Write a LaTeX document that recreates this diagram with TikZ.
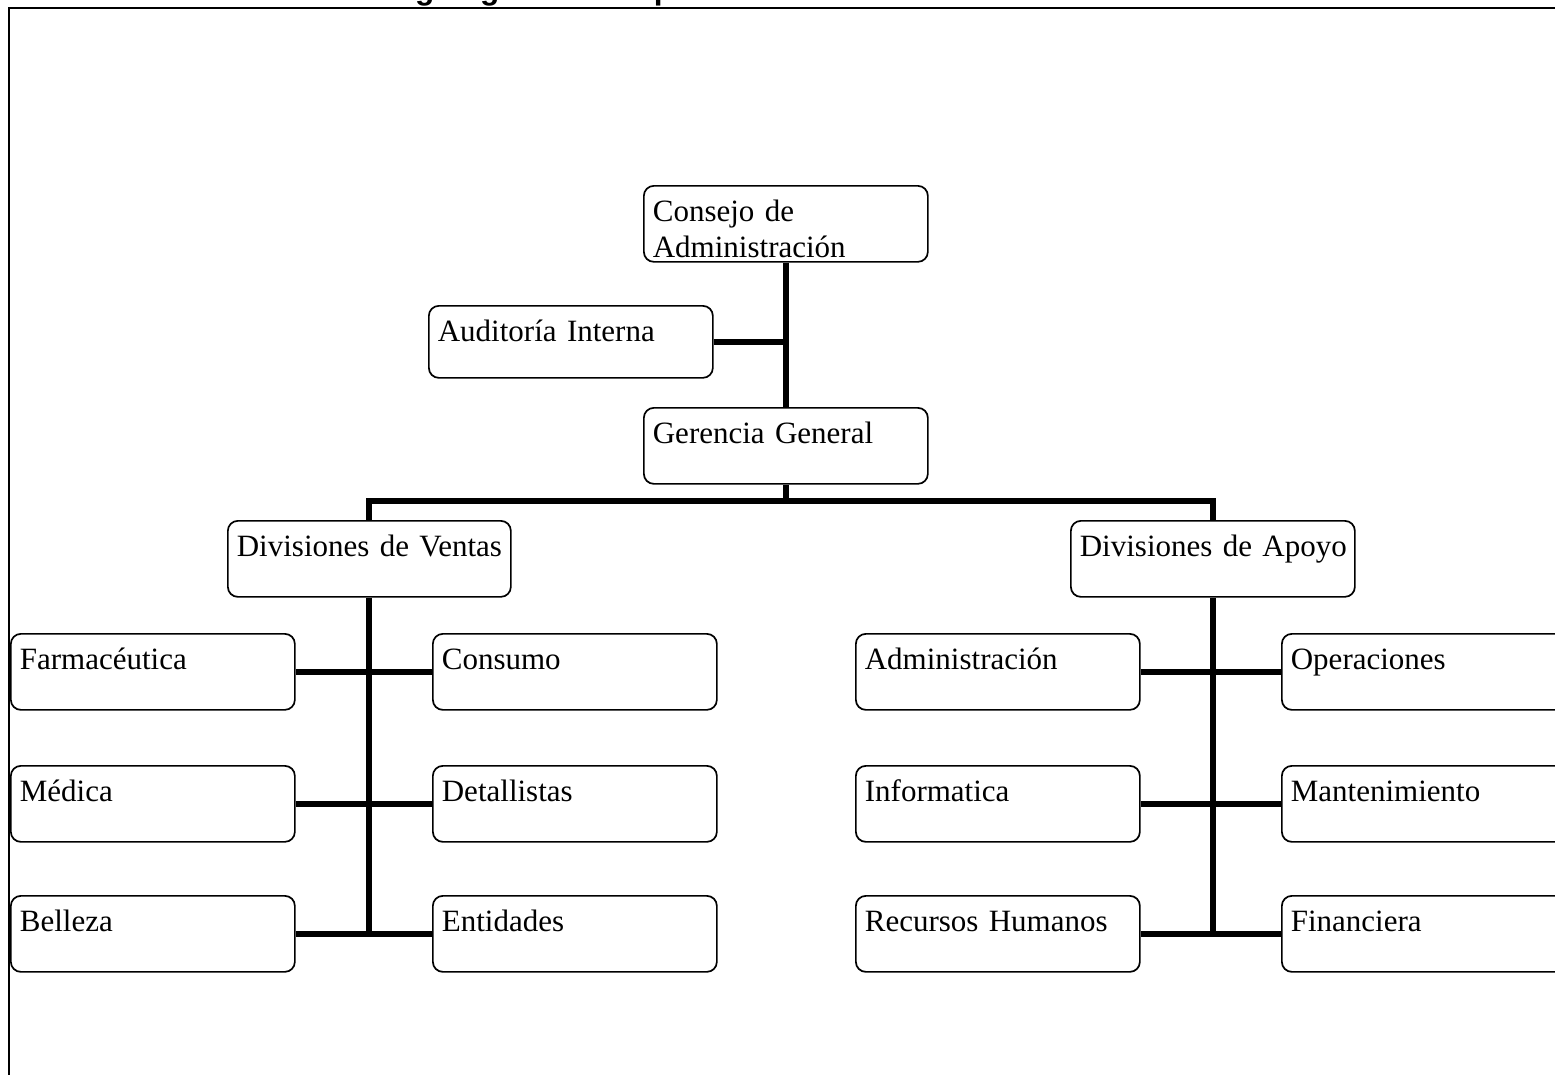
\documentclass[tikz,border=0pt]{standalone}
\usepackage{fontspec}
\setmainfont{Liberation Serif}
\newfontfamily\titlefont{Liberation Sans}
\begin{document}
\begin{tikzpicture}[x=1pt,y=-1pt,
  box/.style={draw, line width=1.7pt, rounded corners=10pt, rectangle, anchor=north west,
    inner xsep=9pt, inner ysep=0pt, align=left, font=\fontsize{31}{36}\selectfont,
    text height=36pt, text depth=40pt, text width=266pt},
  conn/.style={line width=6pt},
  frame/.style={line width=2pt}]
\useasboundingbox (0,0) rectangle (1555,1074);
\clip (0,0) rectangle (1555,1074);
% cut-off title and frame
\node[anchor=base west, inner sep=0pt, font=\titlefont\bfseries\fontsize{31.6}{36}\selectfont] (title) at (378,-1) {Organigrama de Operaciones};
\coordinate (fbl) at (9,1080);
\coordinate (ftl) at (9,8);
\coordinate (ftr) at (1560,8);
\draw[frame] (fbl) -- (ftl) -- (ftr);
% boxes
\node[box] (cons) at (643,185) {Consejo de\\Administración};
\node[box, text depth=36pt] (aud) at (428,305) {\mbox{Auditoría Interna}};
\node[box] (ger) at (643,407) {\mbox{Gerencia General}};
\node[box, text width=265pt] (ven) at (227,520) {\mbox{Divisiones de Ventas}};
\node[box] (apo) at (1070,520) {\mbox{Divisiones de Apoyo}};
\node[box] (far) at (10,633) {\mbox{Farmacéutica}};
\node[box] (med) at (10,765) {\mbox{Médica}};
\node[box] (bel) at (10,895) {\mbox{Belleza}};
\node[box] (con) at (432,633) {\mbox{Consumo}};
\node[box] (det) at (432,765) {\mbox{Detallistas}};
\node[box] (ent) at (432,895) {\mbox{Entidades}};
\node[box] (adm) at (855,633) {\mbox{Administración}};
\node[box] (inf) at (855,765) {\mbox{Informatica}};
\node[box] (rrh) at (855,895) {\mbox{Recursos Humanos}};
\node[box] (ope) at (1281,633) {\mbox{Operaciones}};
\node[box] (man) at (1281,765) {\mbox{Mantenimiento}};
\node[box] (fin) at (1281,895) {\mbox{Financiera}};
% connectors
\draw[conn] (cons.south) -- (ger.north);
\draw[conn] (aud.east) -- (aud.east -| cons.south);
\coordinate (bar) at (787,501);
\draw[conn] (ger.south) -- (ger.south |- bar);
\draw[conn] (ven.north) -- (ven.north |- bar) -- (apo.north |- bar) -- (apo.north);
\draw[conn] (ven.south) -- (ven.south |- bel.east);
\draw[conn] (far.east) -- (con.west);
\draw[conn] (med.east) -- (det.west);
\draw[conn] (bel.east) -- (ent.west);
\draw[conn] (apo.south) -- (apo.south |- rrh.east);
\draw[conn] (adm.east) -- (ope.west);
\draw[conn] (inf.east) -- (man.west);
\draw[conn] (rrh.east) -- (fin.west);
\end{tikzpicture}
\end{document}
